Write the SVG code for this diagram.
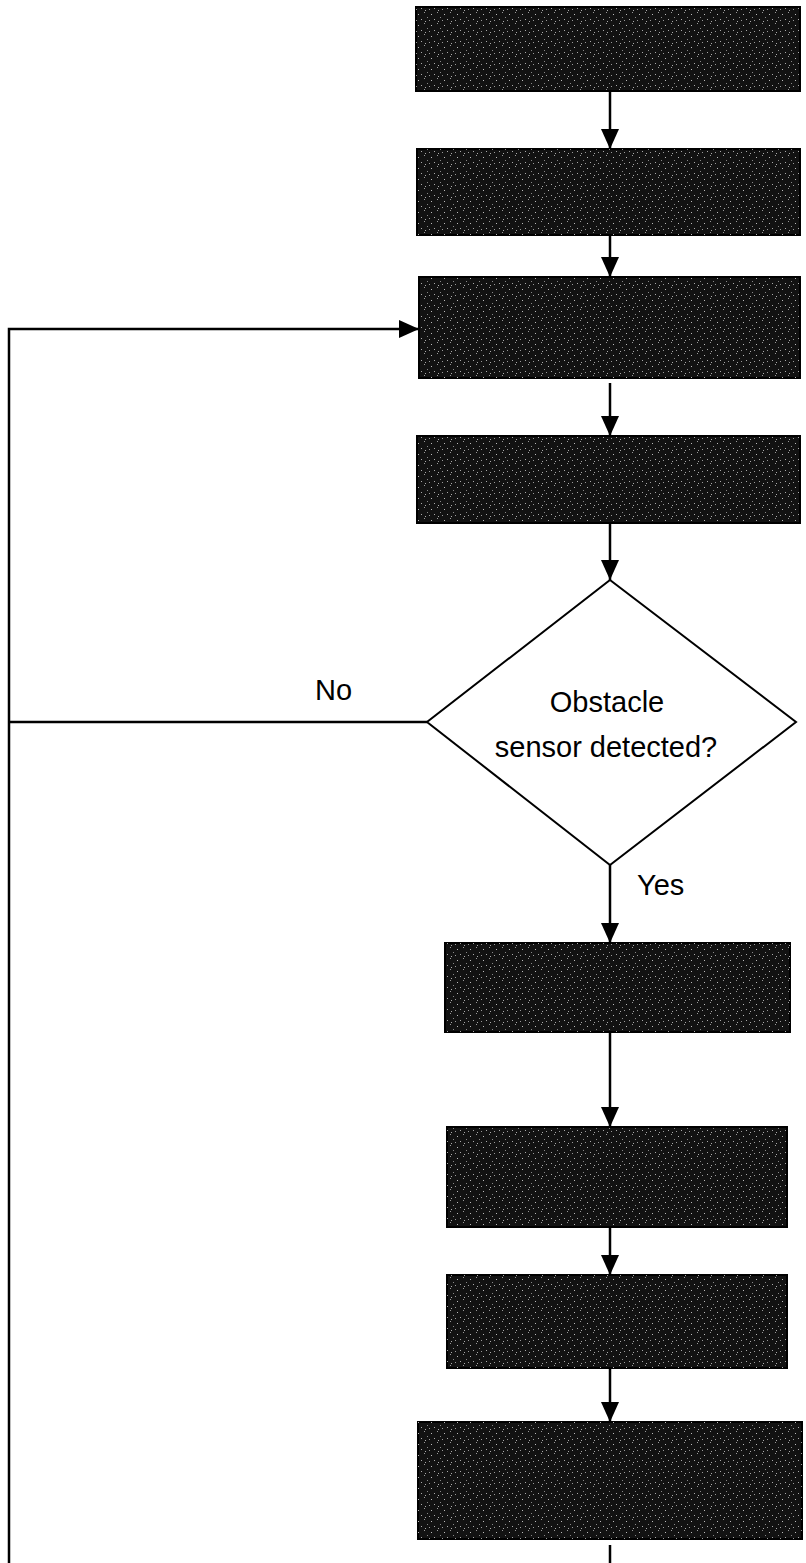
<svg xmlns="http://www.w3.org/2000/svg" width="806" height="1563" viewBox="0 0 806 1563">
<style>
.box{fill:#121212;stroke:#000;stroke-width:2}
.dia{fill:#fff;stroke:#000;stroke-width:2}
.ln{fill:none;stroke:#000;stroke-width:2.5}
.t{font-family:"Liberation Sans",Arial,sans-serif;font-size:29px;fill:#000}
</style>
<defs>
<marker id="ah" markerWidth="20" markerHeight="18" viewBox="0 0 20 18" refX="20" refY="9" orient="auto" markerUnits="userSpaceOnUse">
<path d="M0,0 L20,9 L0,18 Z" fill="#000"/>
</marker>
<pattern id="noise" width="13" height="11" patternUnits="userSpaceOnUse">
<rect x="2" y="3" width="1" height="1" fill="#bbb"/>
<rect x="8" y="1" width="1" height="1" fill="#999"/>
<rect x="5" y="8" width="1" height="1" fill="#aaa"/>
<rect x="11" y="6" width="1" height="1" fill="#888"/>
<rect x="0" y="9" width="1" height="1" fill="#999"/>
<rect x="9" y="10" width="1" height="1" fill="#aaa"/>
</pattern>
</defs>
<rect width="806" height="1563" fill="#fff"/>
<g id="connectors">
<line class="ln" x1="610" y1="91" x2="610" y2="149" marker-end="url(#ah)"/>
<line class="ln" x1="610" y1="235" x2="610" y2="277" marker-end="url(#ah)"/>
<line class="ln" x1="610" y1="383" x2="610" y2="436" marker-end="url(#ah)"/>
<line class="ln" x1="610" y1="523" x2="610" y2="580" marker-end="url(#ah)"/>
<line class="ln" x1="610" y1="865" x2="610" y2="943" marker-end="url(#ah)"/>
<line class="ln" x1="610" y1="1032" x2="610" y2="1127" marker-end="url(#ah)"/>
<line class="ln" x1="610" y1="1227" x2="610" y2="1275" marker-end="url(#ah)"/>
<line class="ln" x1="610" y1="1368" x2="610" y2="1422" marker-end="url(#ah)"/>
<line class="ln" x1="610" y1="1545" x2="610" y2="1563"/>
<polyline class="ln" points="427,722 9,722"/>
<polyline class="ln" points="9,1563 9,329 419,329" marker-end="url(#ah)"/>
<text class="t" x="315" y="700">No</text>
<text class="t" x="637" y="895">Yes</text>
</g>
<g id="n1"><rect class="box" x="416" y="7" width="384" height="84"/><rect x="416" y="7" width="384" height="84" fill="url(#noise)"/></g>
<g id="n2"><rect class="box" x="417" y="149" width="383" height="86"/><rect x="417" y="149" width="383" height="86" fill="url(#noise)"/></g>
<g id="n3"><rect class="box" x="419" y="277" width="381" height="101"/><rect x="419" y="277" width="381" height="101" fill="url(#noise)"/></g>
<g id="n4"><rect class="box" x="417" y="436" width="383" height="87"/><rect x="417" y="436" width="383" height="87" fill="url(#noise)"/></g>
<g id="decision">
<polygon class="dia" points="610,580 796,722 610,865 427,722"/>
<text class="t" x="607" y="712" text-anchor="middle">Obstacle</text>
<text class="t" x="606" y="757" text-anchor="middle">sensor detected?</text>
</g>
<g id="n5"><rect class="box" x="445" y="943" width="345" height="89"/><rect x="445" y="943" width="345" height="89" fill="url(#noise)"/></g>
<g id="n6"><rect class="box" x="447" y="1127" width="340" height="100"/><rect x="447" y="1127" width="340" height="100" fill="url(#noise)"/></g>
<g id="n7"><rect class="box" x="447" y="1275" width="340" height="93"/><rect x="447" y="1275" width="340" height="93" fill="url(#noise)"/></g>
<g id="n8"><rect class="box" x="418" y="1422" width="384" height="117"/><rect x="418" y="1422" width="384" height="117" fill="url(#noise)"/></g>
</svg>
